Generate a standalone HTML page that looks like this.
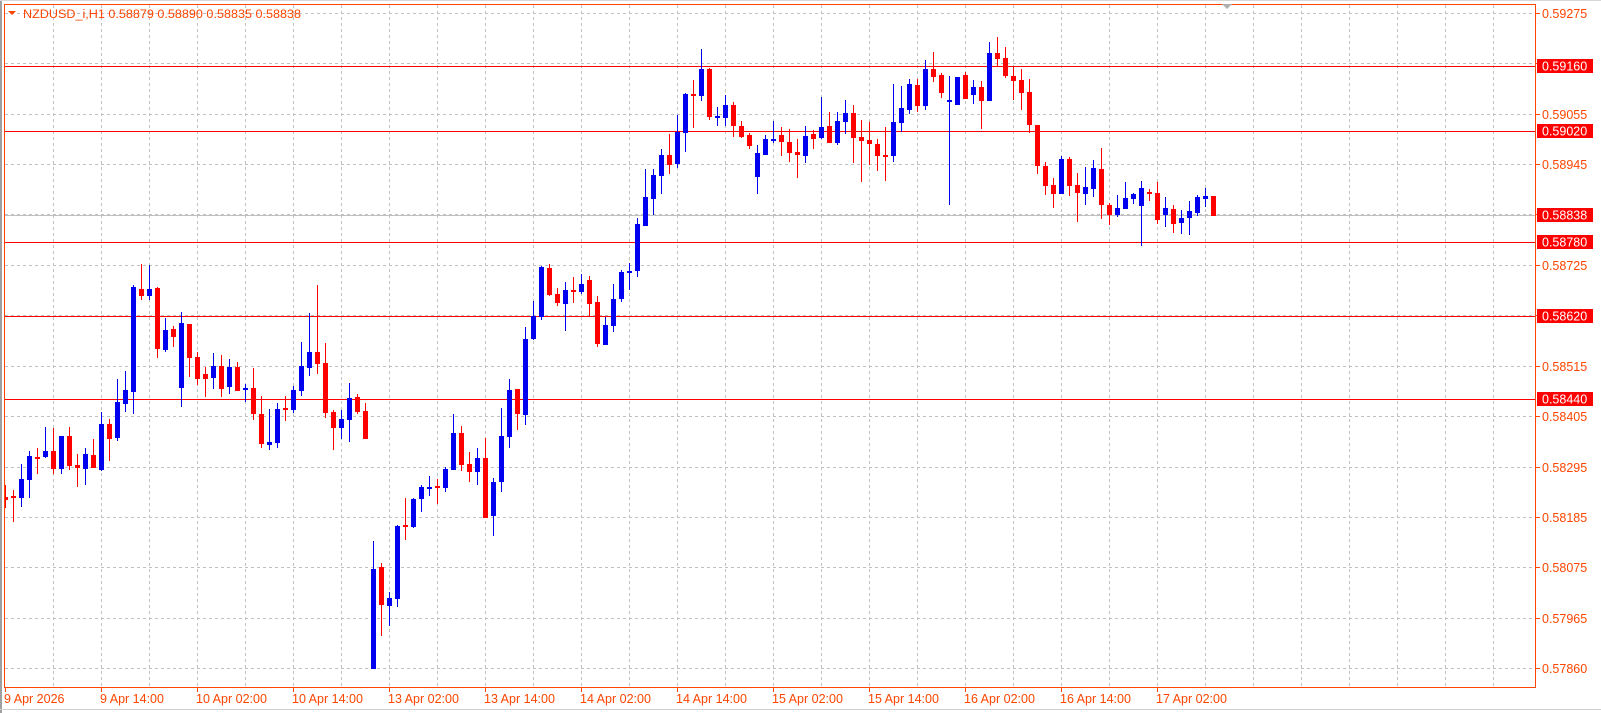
<!DOCTYPE html>
<html><head><meta charset="utf-8">
<style>
html,body{margin:0;padding:0;background:#fff;}
svg{display:block;}
text{font-family:"Liberation Sans",Arial,sans-serif;}
</style></head>
<body>
<svg id="c" width="1601" height="713" xmlns="http://www.w3.org/2000/svg">
<rect x="0" y="0" width="1601" height="713" fill="#fff"/>
<rect x="0" y="0" width="2" height="713" fill="#a0a0a0"/>
<rect x="0" y="0" width="1601" height="1" fill="#d8d8d8"/>
<rect x="0" y="709" width="1601" height="1" fill="#d0d0d0"/>
<g id="grid"></g>
<g id="hl"></g>
<g id="cd"></g>
<rect x="4.5" y="4.5" width="1531" height="683" fill="none" stroke="#ff4500" stroke-width="1"/>
<g id="ax"></g>
<polygon points="8,11 16,11 12,15" fill="#ff4500"/>
<text x="23" y="18" font-size="11.5" fill="#ff4500" textLength="278" lengthAdjust="spacingAndGlyphs">NZDUSD_i,H1  0.58879 0.58890 0.58835 0.58838</text>
<polygon points="1222,4 1232,4 1227,9" fill="#b0b0b0"/>
</svg>
<script>
var NS="http://www.w3.org/2000/svg";
function el(p,t,a,txt){var e=document.createElementNS(NS,t);for(var k in a)e.setAttribute(k,a[k]);if(txt!=null)e.textContent=txt;p.appendChild(e);return e;}
var G=document.getElementById('grid'),H=document.getElementById('hl'),C=document.getElementById('cd'),A=document.getElementById('ax');
function Y(p){return 12.7+(0.59275-p)*46332;}
// horizontal grid
var labs=["0.59275","0.59165","0.59055","0.58945","0.58835","0.58725","0.58615","0.58515","0.58405","0.58295","0.58185","0.58075","0.57965","0.57860"];
var hidden={"0.59165":1,"0.58835":1,"0.58615":1};
for(var k=0;k<14;k++){var y=Math.round(12.7+50.43*k)+0.5;
 el(G,'line',{x1:5,x2:1535,y1:y,y2:y,stroke:'#c0c0c0','stroke-dasharray':'3,3','stroke-width':1});
 el(A,'line',{x1:1536,x2:1540,y1:y,y2:y,stroke:'#ff4500'});
 if(!hidden[labs[k]]) el(A,'text',{x:1542,y:y+4.5,'font-size':12.5,fill:'#ff4500'},labs[k]);
}
// vertical grid
for(var x=53;x<1535;x+=48){el(G,'line',{x1:x+0.5,x2:x+0.5,y1:5,y2:687,stroke:'#c0c0c0','stroke-dasharray':'3,3','stroke-width':1});}
// date labels
var dl=["9 Apr 2026","9 Apr 14:00","10 Apr 02:00","10 Apr 14:00","13 Apr 02:00","13 Apr 14:00","14 Apr 02:00","14 Apr 14:00","15 Apr 02:00","15 Apr 14:00","16 Apr 02:00","16 Apr 14:00","17 Apr 02:00"];
for(var i=0;i<dl.length;i++){var tx=5+96*i;
 el(A,'line',{x1:tx+0.5,x2:tx+0.5,y1:688,y2:692,stroke:'#ff4500'});
 el(A,'text',{x:tx-1,y:703,'font-size':12.5,fill:'#ff4500'},dl[i]);}
// red lines & labels
var rl=[["0.59160",66],["0.59020",131],["0.58780",242],["0.58620",316],["0.58440",399]];
rl.forEach(function(r){el(H,'line',{x1:5,x2:1535,y1:r[1]+0.5,y2:r[1]+0.5,stroke:'#ff0000'});});
// current price line
el(H,'line',{x1:5,x2:1535,y1:215.5,y2:215.5,stroke:'#c0c0c0'});
rl.push(["0.58838",215]);
rl.forEach(function(r){el(A,'rect',{x:1537,y:r[1]-7,width:56,height:14,fill:'#ff0000'});
 el(A,'text',{x:1542,y:r[1]+4.5,'font-size':12.5,fill:'#fff'},r[0]);});
// candles
var d=[
"R 497 500 485 508","R 496 498 490 522","B 479 498 464 507","B 456 480 451 498","R 457 458 448 474","B 451 457 427 458","R 451 469 428 474","B 436 469 436 474","R 436 466 427 470","R 465 468 454 487",
"B 454 469 448 485","R 455 468 439 468","B 424 470 412 471","R 424 439 419 461","B 402 438 379 441","B 390 404 371 412","B 287 392 285 414","R 289 296 264 300","B 289 296 265 300","R 288 349 287 358",
"B 330 350 318 352","R 329 337 326 347","B 323 388 312 407","R 324 358 324 377","R 357 379 352 385","R 374 379 367 397","B 366 378 353 389","R 366 389 355 397","B 367 387 359 394","R 367 391 362 391",
"B 388 390 384 402","R 388 414 368 420","R 414 444 396 448","B 442 445 409 450","B 409 443 403 448","R 408 410 396 421","B 390 410 386 413","B 366 391 342 396","B 352 368 313 376","R 352 364 285 374",
"R 363 413 343 418","R 412 428 410 450","B 419 428 410 439","B 398 420 383 442","R 397 412 394 414","R 411 439 403 439","B 569 669 541 669","R 567 605 563 636","B 598 606 592 626","B 526 599 525 607",
"R 525 527 498 540","B 499 527 498 528","B 487 499 485 512","B 487 489 476 496","R 486 488 479 504","B 469 488 467 492","B 433 470 414 470","R 433 465 426 471","R 464 472 452 482","B 458 472 448 485",
"R 458 518 438 518","B 482 516 478 536","B 436 482 408 492","B 390 437 379 448","R 389 414 389 430","B 339 415 327 425","B 316 339 301 340","B 267 317 266 320","R 268 295 264 296","R 294 303 288 306",
"B 290 304 282 331","R 290 291 277 303","B 284 292 274 294","R 280 304 276 316","R 302 344 296 347","B 325 345 317 345","B 299 326 284 332","B 272 299 270 302","B 271 273 263 290","B 224 271 218 277",
"B 197 226 169 226","B 175 199 169 215","B 155 176 149 194","R 155 165 134 174","B 132 164 115 168","B 94 133 93 152","R 94 95 80 128","B 69 96 49 101","R 69 117 68 120","B 116 118 107 126",
"B 105 118 95 126","R 105 126 102 137","R 126 137 121 138","R 135 146 133 149","B 153 177 145 194","B 139 155 135 155","B 139 141 121 143","R 135 142 127 156","R 142 153 129 162","R 152 155 139 178",
"B 136 156 126 163","R 134 139 130 149","B 127 138 97 139","R 126 143 112 143","B 121 143 112 145","B 113 122 100 134","R 113 138 105 163","R 137 141 120 182","R 140 144 122 165","R 144 156 139 171",
"R 155 157 127 181","B 122 156 84 162","B 108 123 86 132","B 84 110 79 114","R 85 106 79 112","B 69 106 60 110","R 69 77 52 82","R 75 93 73 98","B 100 101 76 205","B 77 105 77 105",
"R 75 99 72 99","B 87 95 80 104","R 87 101 81 129","B 53 101 42 101","R 53 59 37 66","R 58 76 47 78","R 76 81 66 100","R 80 93 69 110","R 92 125 79 133","R 125 166 125 174",
"R 166 186 162 195","R 185 194 178 208","B 159 194 156 194","R 159 186 157 196","R 185 193 173 222","B 187 194 167 205","B 168 189 160 197","R 169 205 148 219","R 205 215 203 225","B 208 215 195 217",
"B 198 209 182 209","B 194 199 193 204","B 188 206 181 246","R 192 194 189 201","R 193 220 182 224","B 208 215 197 227","R 209 224 205 233","B 218 223 210 234","B 211 218 201 235","B 197 213 195 216",
"B 196 199 188 207","R 196 216 196 216"];
d.forEach(function(s,i){var p=s.split(' ');var col=p[0]=='R'?'#ff0000':'#0000f0';
 var bt=+p[1],bb=+p[2],wt=+p[3],wb=+p[4];var wx=5+8*i;
 el(C,'rect',{x:wx,y:wt,width:1,height:Math.max(1,wb-wt),fill:col});
 var bx=3+8*i,bw=5;if(bx<5){bw-=5-bx;bx=5;}
 el(C,'rect',{x:bx,y:bt,width:bw,height:Math.max(2,bb-bt),fill:col});
});
</script>
</body></html>
